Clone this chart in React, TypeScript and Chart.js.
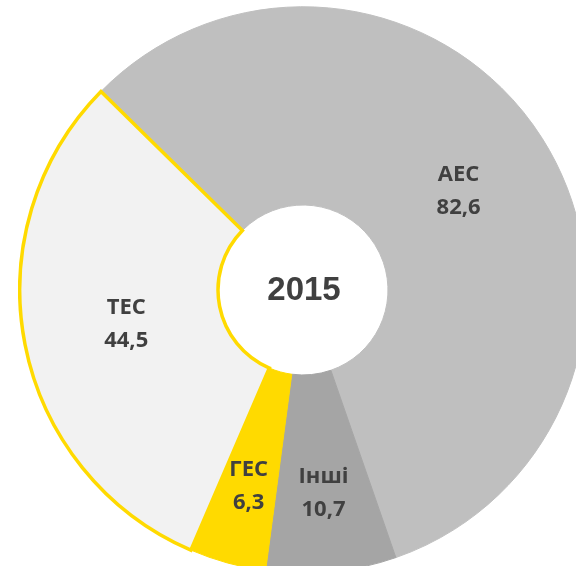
import React, { useEffect, useRef } from "react";
import { Chart, registerables } from "chart.js";

Chart.register(...registerables);

const categories = ["АЕС", "Інші", "ГЕС", "ТЕС"];
const values = [82.6, 10.7, 6.3, 44.5];
const valueLabels = ["82,6", "10,7", "6,3", "44,5"];
const centerLabel = "2015";

const fillColors = ["#BFBFBF", "#A5A5A5", "#FFDA00", "#F2F2F2"];
const borderColors = ["#BFBFBF", "#A5A5A5", "#FFDA00", "#FFDA00"];
const borderWidths = [1, 1, 1, 3.5];
const labelRadiusFrac = [0.5, 0.6, 0.6, 0.48];

const labelPlugin = {
  id: "sliceLabels",
  afterDatasetsDraw(chart: any) {
    const ctx = chart.ctx;
    const meta = chart.getDatasetMeta(0);
    ctx.save();
    ctx.fillStyle = "#404040";
    ctx.textAlign = "center";
    ctx.textBaseline = "middle";
    ctx.font = "bold 22px 'Open Sans'";
    meta.data.forEach((arc: any, i: number) => {
      const { x, y, startAngle, endAngle, innerRadius, outerRadius } = arc.getProps(
        ["x", "y", "startAngle", "endAngle", "innerRadius", "outerRadius"],
        true
      );
      const mid = (startAngle + endAngle) / 2;
      const r = innerRadius + (outerRadius - innerRadius) * labelRadiusFrac[i];
      const cx = x + Math.cos(mid) * r;
      const cy = y + Math.sin(mid) * r;
      ctx.fillText(categories[i], cx, cy - 16.5);
      ctx.fillText(valueLabels[i], cx, cy + 16.5);
    });
    const a0 = meta.data[0];
    ctx.font = "bold 33px 'Liberation Sans'";
    ctx.fillText(centerLabel, a0.x + 1, a0.y + 1);
    ctx.restore();
  },
};

export default function App() {
  const ref = useRef<HTMLCanvasElement>(null);
  useEffect(() => {
    if (!ref.current) return;
    const chart = new Chart(ref.current, {
      type: "doughnut",
      data: {
        labels: categories,
        datasets: [
          {
            data: values,
            backgroundColor: fillColors,
            borderColor: borderColors,
            borderWidth: borderWidths,
            borderJoinStyle: "miter",
            hoverOffset: 0,
            offset: 0,
          } as any,
        ],
      },
      options: {
        animation: false,
        responsive: true,
        maintainAspectRatio: false,
        rotation: -45.5,
        cutout: "30%",
        layout: { padding: 0 },
        plugins: {
          legend: { display: false },
          tooltip: { enabled: false },
        },
        events: [],
      },
      plugins: [labelPlugin],
    });
    return () => chart.destroy();
  }, []);
  return (
    <div
      style={{
        position: "fixed",
        left: 0,
        top: 0,
        width: 576,
        height: 566,
        overflow: "hidden",
        background: "#fff",
      }}
    >
      <div style={{ position: "absolute", left: 18, top: 5, width: 570, height: 570 }}>
        <canvas ref={ref} />
      </div>
    </div>
  );
}
